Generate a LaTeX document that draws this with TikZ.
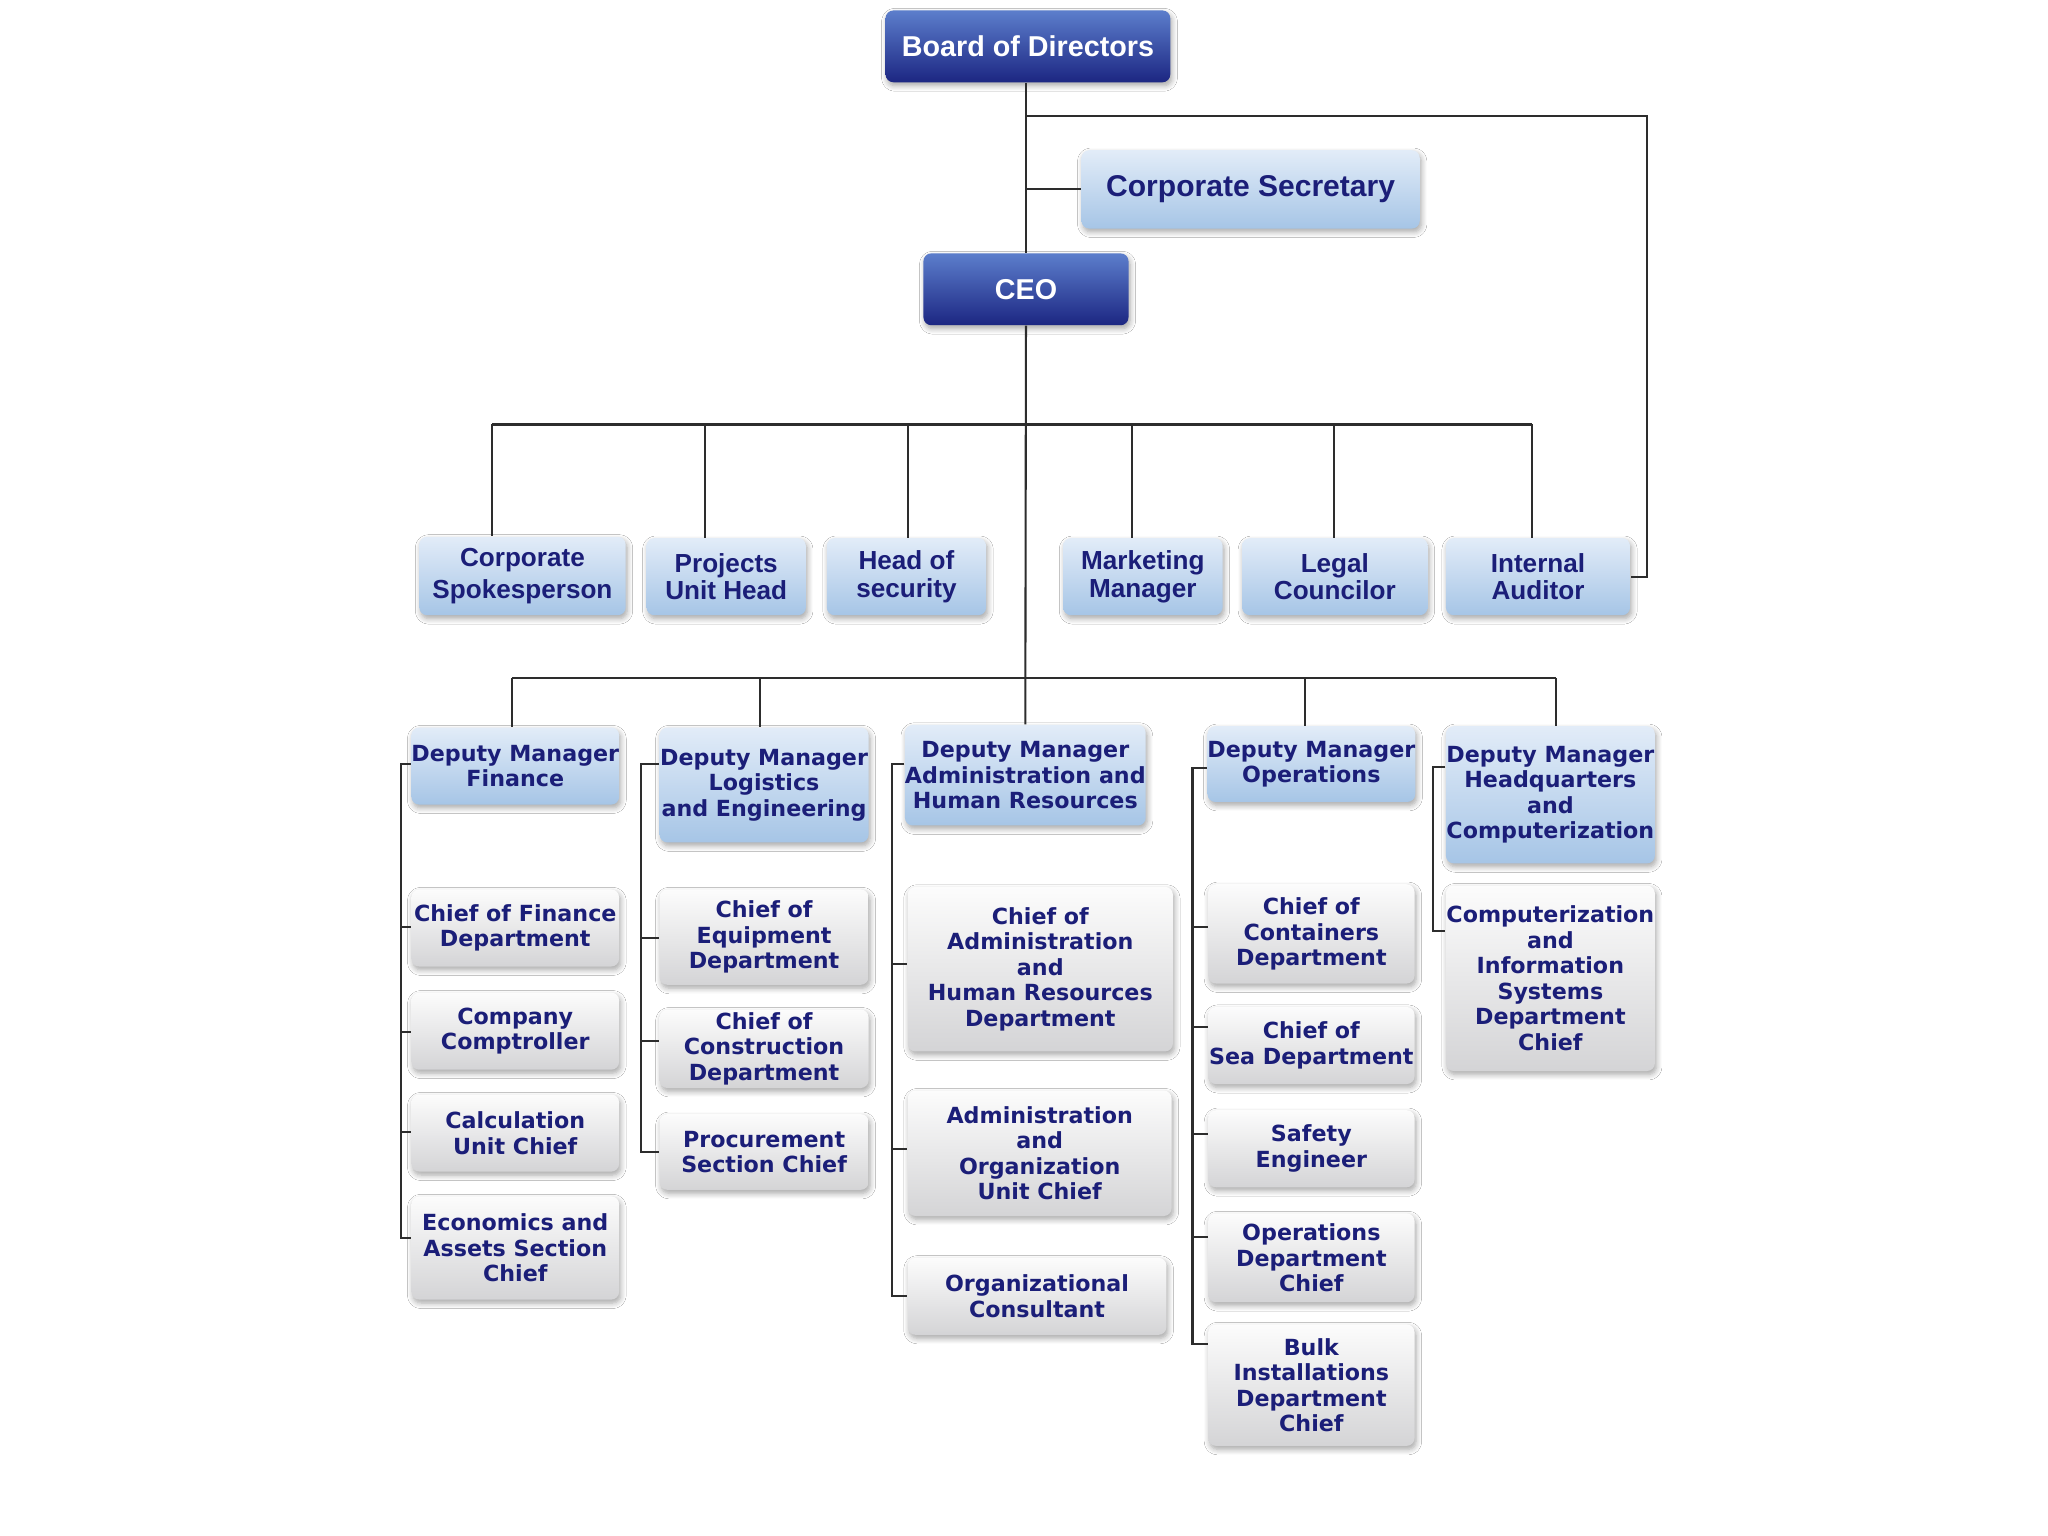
\documentclass[tikz,border=0pt]{standalone}
\usepackage{fontspec}
\setmainfont{Liberation Sans}
\newfontfamily\widefont{DejaVu Sans}
\usetikzlibrary{shadows.blur}
\definecolor{navy}{RGB}{27,30,120}
\definecolor{dkT}{RGB}{92,126,204}
\definecolor{dkB}{RGB}{28,38,130}
\definecolor{ltT}{RGB}{226,236,248}
\definecolor{ltB}{RGB}{166,197,230}
\definecolor{gyT}{RGB}{252,252,252}
\definecolor{gyB}{RGB}{212,212,214}
\definecolor{lk}{RGB}{45,45,45}
\newcommand\mkbox[7]{\node[#1, minimum width={(#5-#3)*0.5pt}, minimum height={(#6-#4)*0.5pt}] (#2) at ({(#3+#5)/2},{(#4+#6)/2}) {#7};}
\tikzset{
  base/.style={rounded corners=3pt, inner sep=0pt, align=center,
    blur shadow={shadow blur steps=6, shadow xshift=0.6pt, shadow yshift=-1.3pt, shadow opacity=35}},
  dark/.style={base, top color=dkT, bottom color=dkB, text=white, font=\bfseries\fontsize{11}{12}\selectfont},
  lite/.style={base, top color=ltT, bottom color=ltB, text=navy, font=\bfseries\fontsize{10}{10.5}\selectfont},
  dmbox/.style={base, top color=ltT, bottom color=ltB, text=navy, font=\widefont\bfseries\fontsize{8.5}{9.8}\selectfont},
  grey/.style={base, top color=gyT, bottom color=gyB, text=navy, font=\widefont\bfseries\fontsize{8.5}{9.8}\selectfont},
  link/.style={draw=lk, line width=0.8pt},
}
\begin{document}
\begin{tikzpicture}[x=0.5pt, y=-0.5pt]
\useasboundingbox[fill=white] (0,0) rectangle (1568,1176);

% top
\mkbox{dark}{board}{678}{8}{896}{63}{Board of Directors}
\mkbox{lite,font=\bfseries\fontsize{11.5}{12}\selectfont}{sec}{828}{115}{1087}{175}{Corporate Secretary}
\mkbox{dark}{ceo}{707}{194}{864}{249}{CEO}

% row 1
\mkbox{lite,font=\bfseries\fontsize{10}{12.5}\selectfont}{sp}{321}{411}{479}{471}{Corporate\\Spokesperson}
\mkbox{lite}{pu}{495}{412}{617}{471}{Projects\\Unit Head}
\mkbox{lite}{hs}{633}{412}{755}{471}{Head of\\security}
\mkbox{lite}{mm}{814}{412}{936}{471}{Marketing\\Manager}
\mkbox{lite}{lc}{951}{412}{1093}{471}{Legal\\Councilor}
\mkbox{lite}{ia}{1107}{412}{1248}{471}{Internal\\Auditor}

% row 2 headers
\mkbox{dmbox}{dmF}{315}{557}{474}{616}{Deputy Manager\\Finance}
\mkbox{dmbox}{dmL}{505}{557}{665}{645}{Deputy Manager\\Logistics\\and Engineering}
\mkbox{dmbox}{dmA}{695}{555}{875}{632}{Deputy Manager\\Administration and\\Human Resources}
\mkbox{dmbox}{dmO}{925}{556}{1083}{614}{Deputy Manager\\Operations}
\mkbox{dmbox}{dmH}{1107}{556}{1267}{661}{Deputy Manager\\Headquarters\\and\\Computerization}

% children
\mkbox{grey}{cf}{315}{681}{474}{740}{Chief of Finance\\Department}
\mkbox{grey}{cc}{315}{760}{474}{819}{Company\\Comptroller}
\mkbox{grey}{cu}{315}{838}{474}{897}{Calculation\\Unit Chief}
\mkbox{grey}{ea}{315}{916}{474}{995}{Economics and\\Assets Section\\Chief}

\mkbox{grey}{ce}{505}{681}{665}{754}{Chief of\\Equipment\\Department}
\mkbox{grey}{cn}{505}{773}{665}{833}{Chief of\\Construction\\Department}
\mkbox{grey}{ps}{505}{853}{665}{911}{Procurement\\Section Chief}

\mkbox{grey}{ah}{695}{679}{898}{805}{Chief of\\Administration\\and\\Human Resources\\Department}
\mkbox{grey}{ao}{695}{835}{897}{931}{Administration\\and\\Organization\\Unit Chief}
\mkbox{grey}{oc}{695}{963}{893}{1022}{Organizational\\Consultant}

\mkbox{grey}{ct}{925}{677}{1083}{753}{Chief of\\Containers\\Department}
\mkbox{grey}{cs}{925}{771}{1083}{830}{Chief of\\Sea Department}
\mkbox{grey}{se}{925}{850}{1083}{909}{Safety\\Engineer}
\mkbox{grey}{od}{925}{929}{1083}{997}{Operations\\Department\\Chief}
\mkbox{grey}{bi}{925}{1014}{1083}{1107}{Bulk\\Installations\\Department\\Chief}

\mkbox{grey}{ci}{1107}{678}{1267}{820}{Computerization\\and\\Information\\Systems\\Department\\Chief}

% connectors top
\coordinate (ar) at (1261,89);
\draw[link] (ceo.north |- board.south) -- (ceo.north);
\draw[link] (ceo.north |- ar) -- (ar) |- (ia.east);
\draw[link] (ceo.north |- sec.west) -- (sec.west);
\draw[link] (ceo.south) -- (dmA.north);

% bus 1
\coordinate (a1) at (377,325);
\coordinate (a2) at (540,325);
\coordinate (a3) at (695,325);
\coordinate (a4) at (867,325);
\coordinate (a5) at (1021,325);
\coordinate (a6) at (1173,325);
\draw[link] (a1) -- (a6);
\draw[link] (a1) -- (a1 |- sp.north);
\draw[link] (a2) -- (a2 |- pu.north);
\draw[link] (a3) -- (a3 |- hs.north);
\draw[link] (a4) -- (a4 |- mm.north);
\draw[link] (a5) -- (a5 |- lc.north);
\draw[link] (a6) -- (a6 |- ia.north);

% bus 2
\coordinate (b1) at (392,519);
\coordinate (b2) at (582,519);
\coordinate (b4) at (999,519);
\coordinate (b5) at (1191,519);
\draw[link] (b1) -- (b5);
\draw[link] (b1) -- (b1 |- dmF.north);
\draw[link] (b2) -- (b2 |- dmL.north);
\draw[link] (b4) -- (b4 |- dmO.north);
\draw[link] (b5) -- (b5 |- dmH.north);

% finance bracket
\draw[link] (dmF.west |- 0,585) -- (307,585) -- (307,948) -- (ea.west |- 0,948);
\draw[link] (307,710) -- (cf.west |- 0,710);
\draw[link] (307,790) -- (cc.west |- 0,790);
\draw[link] (307,867) -- (cu.west |- 0,867);

% logistics bracket
\draw[link] (dmL.west |- 0,585) -- (491,585) -- (491,882) -- (ps.west |- 0,882);
\draw[link] (491,718) -- (ce.west |- 0,718);
\draw[link] (491,797) -- (cn.west |- 0,797);

% admin bracket
\draw[link] (dmA.west |- 0,585) -- (683,585) -- (683,992) -- (oc.west |- 0,992);
\draw[link] (683,738) -- (ah.west |- 0,738);
\draw[link] (683,880) -- (ao.west |- 0,880);

% operations bracket
\draw[link] (dmO.west |- 0,588) -- (913,588) -- (913,1029) -- (bi.west |- 0,1029);
\draw[link] (913,710) -- (ct.west |- 0,710);
\draw[link] (913,786) -- (cs.west |- 0,786);
\draw[link] (913,868) -- (se.west |- 0,868);
\draw[link] (913,947) -- (od.west |- 0,947);

% HQ bracket
\draw[link] (dmH.west |- 0,587) -- (1097,587) -- (1097,713) -- (ci.west |- 0,713);
\end{tikzpicture}
\end{document}
